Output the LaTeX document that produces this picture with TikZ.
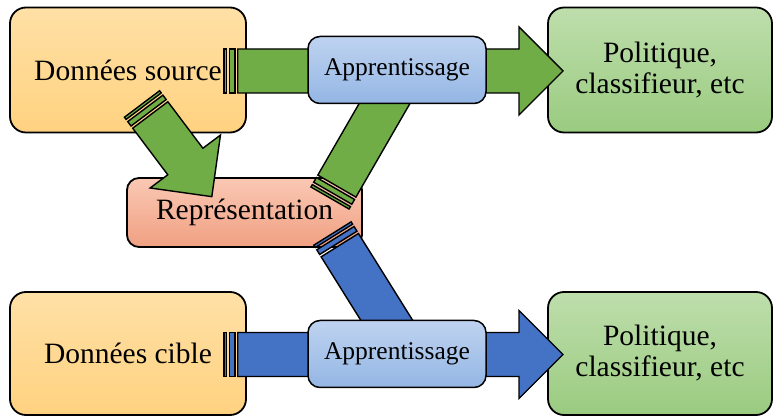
\documentclass[tikz,border=0pt]{standalone}
\usepackage{fontspec}
\setmainfont{Liberation Serif}
\usetikzlibrary{calc}

\definecolor{srcTop}{RGB}{255,224,166}
\definecolor{srcBot}{RGB}{255,210,128}
\definecolor{outTop}{RGB}{190,222,172}
\definecolor{outBot}{RGB}{154,203,128}
\definecolor{repTop}{RGB}{250,200,180}
\definecolor{repBot}{RGB}{240,160,130}
\definecolor{lrnTop}{RGB}{190,211,240}
\definecolor{lrnBot}{RGB}{148,182,228}
\definecolor{arrGreen}{RGB}{112,173,71}
\definecolor{arrBlue}{RGB}{68,114,196}

\tikzset{
  box/.style={draw=black, line width=1.8pt, rounded corners=16pt, inner sep=0pt,
              font=\fontsize{29.5}{31}\selectfont, align=center},
  srcbox/.style={box, top color=srcTop, bottom color=srcBot,
                 minimum width=236pt, minimum height=125pt},
  outbox/.style={box, top color=outTop, bottom color=outBot,
                 minimum width=224pt, minimum height=125pt},
  repbox/.style={box, top color=repTop, bottom color=repBot, rounded corners=12pt,
                 minimum width=235pt, minimum height=69pt},
  lrnbox/.style={box, top color=lrnTop, bottom color=lrnBot, rounded corners=12pt,
                 line width=1.5pt, font=\fontsize{25.5}{28}\selectfont,
                 minimum width=178pt, minimum height=67pt},
  arrowline/.style={draw=black, line width=1.4pt, line join=miter}
}

% striped block arrow: colour, tail centre, angle, length
\newcommand{\stripedarrow}[4]{%
  \begin{scope}[shift={#2}, rotate=#3]
    \draw[arrowline, fill=#1] (0,-22) rectangle (2.75,22);
    \draw[arrowline, fill=#1] (5.5,-22) rectangle (11,22);
    \draw[arrowline, fill=#1] (13.75,-22) -- (#4-44,-22) -- (#4-44,-44) -- (#4,0)
      -- (#4-44,44) -- (#4-44,22) -- (13.75,22) -- cycle;
  \end{scope}}
% striped band whose far end is covered by a box
\newcommand{\stripedband}[4]{%
  \begin{scope}[shift={#2}, rotate=#3]
    \draw[arrowline, fill=#1] (0,-22) rectangle (2.75,22);
    \draw[arrowline, fill=#1] (5.5,-22) rectangle (11,22);
    \draw[arrowline, fill=#1] (13.75,-22) rectangle (#4,22);
  \end{scope}}

\begin{document}
\begin{tikzpicture}[x=1pt, y=-1pt]
  \useasboundingbox (0,0) rectangle (774,419);

  % data, representation and result boxes
  \node[srcbox] (src) at (128,70) {Données source};
  \node[srcbox, minimum height=123pt] (tgt) at (128,353.5) {Données cible};
  \node[outbox] (out1) at (660,70) {Politique,\\classifieur, etc};
  \node[outbox, minimum height=123pt] (out2) at (660,353.5) {Politique,\\classifieur, etc};
  \node[repbox] (rep) at (244.5,212.5) {Représentation};

  % block arrows
  \coordinate (t1) at (224,71);
  \coordinate (t2) at (224,354.5);
  \coordinate (t3) at (142,104);
  \coordinate (t4) at (330,198);
  \coordinate (t5) at (332.5,233.5);
  \stripedarrow{arrGreen}{(t1)}{0}{339}
  \stripedarrow{arrBlue}{(t2)}{0}{339}
  \stripedarrow{arrGreen}{(t3)}{-53}{116}
  \stripedband{arrGreen}{(t4)}{60}{140}
  \stripedband{arrBlue}{(t5)}{-58}{130}

  % learning steps on top of the arrows
  \node[lrnbox] (lrn1) at (397,70) {Apprentissage};
  \node[lrnbox] (lrn2) at (397,354) {Apprentissage};
\end{tikzpicture}
\end{document}
